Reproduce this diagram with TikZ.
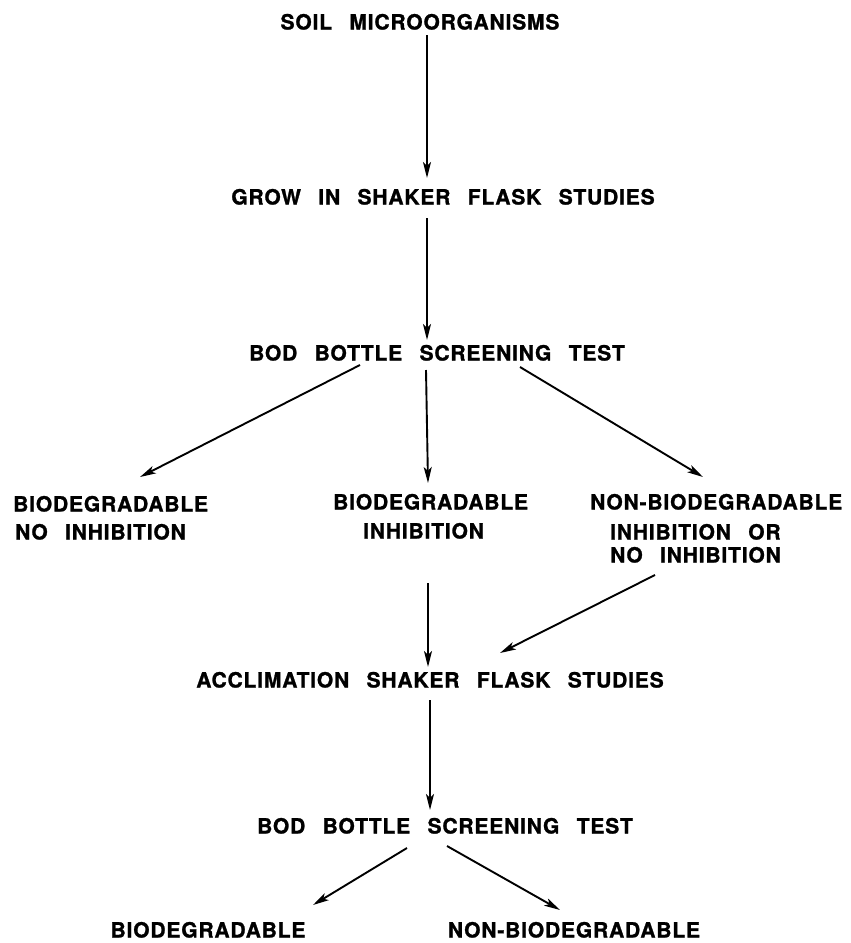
\documentclass[tikz,border=0pt]{standalone}
\usepackage{fontspec}
\setmainfont{texgyreheros-bold.otf}[LetterSpace=4,WordSpace=2.6,FakeBold=1.2]
\usetikzlibrary{arrows.meta,calc}
\begin{document}
\begin{tikzpicture}[x=1pt,y=-1pt,
  lbl/.style={font=\fontsize{21}{21}\selectfont,inner sep=0pt,text height=15pt,text depth=0pt},
  lw/.style={lbl,anchor=west},
  arr/.style={-{Stealth[length=16pt,width=8pt,inset=4pt]},line width=1.9pt}]
\useasboundingbox (0,0) rectangle (851,943);
\fill[white] (0,0) rectangle (851,943);
\node[lbl] (soil) at (420,22) {SOIL MICROORGANISMS};
\node[lbl] (grow) at (443,197) {GROW IN SHAKER FLASK STUDIES};
\node[lbl] (bod1) at (437,353) {BOD BOTTLE SCREENING TEST};
\node[lw] (lb1) at (13,504) {BIODEGRADABLE};
\node[lw] (lb2) at (15,532) {NO INHIBITION};
\node[lw] (mb1) at (333,502) {BIODEGRADABLE};
\node[lw] (mb2) at (363,531) {INHIBITION};
\node[lw] (rb1) at (590,502) {NON-BIODEGRADABLE};
\node[lw] (rb2) at (610,532) {INHIBITION OR};
\node[lw] (rb3) at (610,555) {NO INHIBITION};
\node[lbl] (accl) at (430,680) {ACCLIMATION SHAKER FLASK STUDIES};
\node[lbl] (bod2) at (445,826) {BOD BOTTLE SCREENING TEST};
\node[lbl] (bio) at (208,930) {BIODEGRADABLE};
\node[lbl] (non) at (574,930) {NON-BIODEGRADABLE};
\draw[arr] ($(soil)+(7,13)$) -- ($(grow)+(-16,-19)$);
\draw[arr] ($(grow)+(-16,21)$) -- ($(bod1)+(-10,-13)$);
\draw[arr] ($(bod1)+(-77,12)$) -- ($(lb1.west)+(127,-27)$);
\draw[arr] ($(bod1)+(-11,17)$) -- ($(mb1.west)+(95,-19)$);
\draw[arr] ($(bod1)+(83,14)$) -- ($(rb1.west)+(113,-25)$);
\draw[arr] ($(mb2.west)+(65,52)$) -- ($(accl)+(-2,-13)$);
\draw[arr] ($(rb3.west)+(45,20)$) -- ($(accl)+(70,-27)$);
\draw[arr] ($(accl)+(0,20)$) -- ($(bod2)+(-15,-16)$);
\draw[arr] ($(bod2)+(-38,22)$) -- ($(bio)+(105,-25)$);
\draw[arr] ($(bod2)+(2,20)$) -- ($(non)+(-14,-20)$);
\end{tikzpicture}
\end{document}
